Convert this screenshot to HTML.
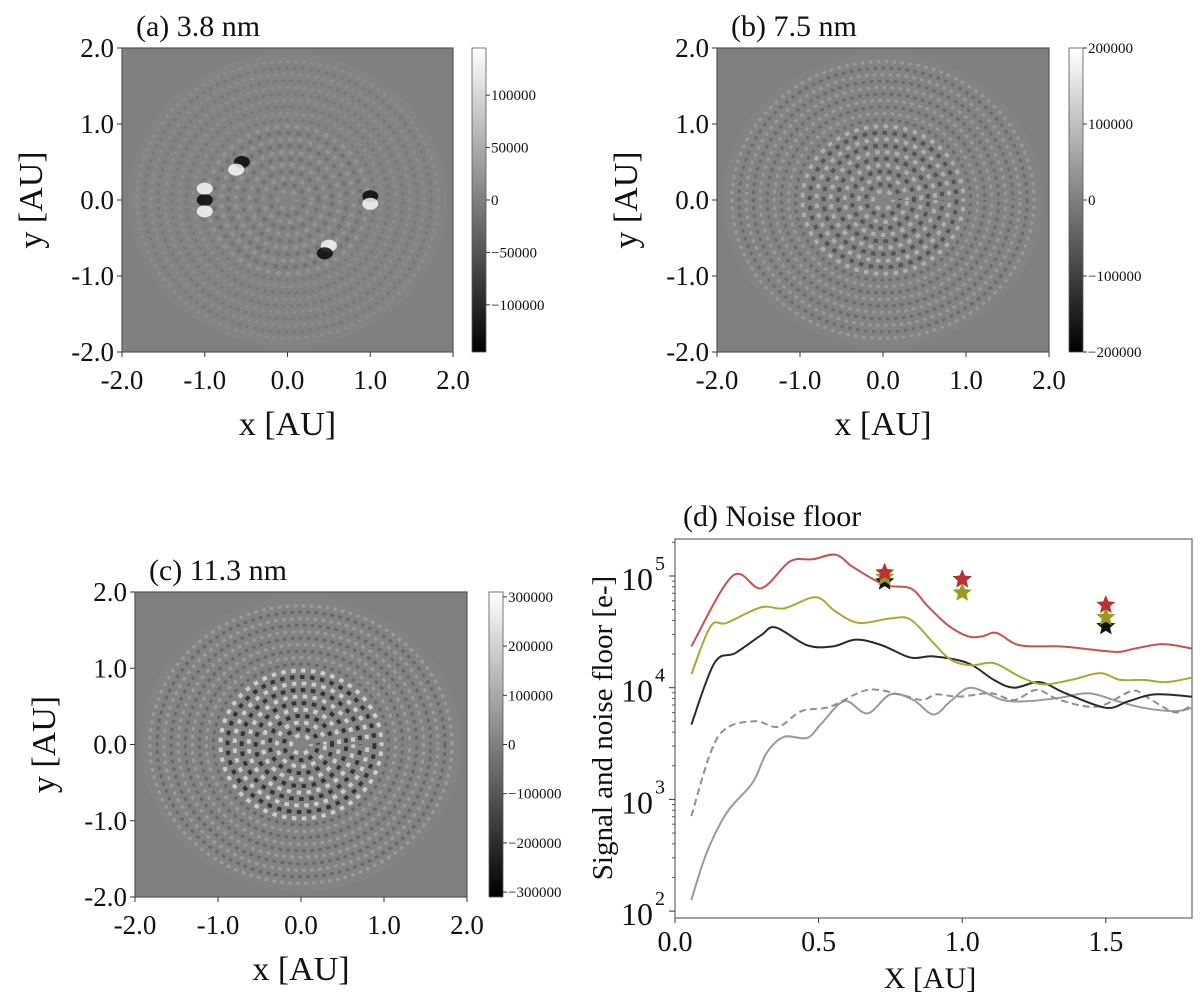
<!DOCTYPE html>
<html><head><meta charset="utf-8"><style>
body{margin:0;background:#fff}
svg{display:block;font-family:"Liberation Serif",serif}
</style></head><body>
<svg id="fig" width="1200" height="996" viewBox="0 0 1200 996" xmlns="http://www.w3.org/2000/svg">
<defs>
<linearGradient id="cbg" x1="0" y1="0" x2="0" y2="1"><stop offset="0" stop-color="#fff"/><stop offset="1" stop-color="#000"/></linearGradient>
<clipPath id="clipA"><rect x="122" y="48" width="331" height="304"/></clipPath>
<clipPath id="clipB"><rect x="717" y="48" width="332" height="304"/></clipPath>
<clipPath id="clipC"><rect x="135" y="592" width="332" height="305"/></clipPath>
<clipPath id="clipD"><rect x="675" y="539" width="517" height="379"/></clipPath>
</defs>
</svg>
<script>
// ---- panel (d) data ----
const redX=[0.057,0.2,0.30,0.40,0.48,0.56,0.62,0.73,0.82,0.88,0.95,1.02,1.07,1.12,1.20,1.34,1.42,1.54,1.60,1.70,1.80];
const redLog=[4.37,5.0,4.89,5.13,5.15,5.19,5.08,4.92,4.89,4.73,4.56,4.46,4.46,4.49,4.38,4.37,4.35,4.32,4.35,4.39,4.35];
const oliveX=[0.057,0.124,0.18,0.30,0.38,0.49,0.56,0.64,0.75,0.82,0.90,0.96,1.03,1.11,1.20,1.28,1.38,1.48,1.55,1.63,1.71,1.80];
const oliveLog=[4.12,4.55,4.58,4.72,4.71,4.81,4.68,4.58,4.62,4.61,4.40,4.25,4.20,4.22,4.10,4.03,4.07,4.13,4.07,4.07,4.05,4.09];
const blackX=[0.057,0.137,0.21,0.30,0.35,0.46,0.55,0.63,0.72,0.82,0.90,1.02,1.11,1.18,1.27,1.36,1.50,1.58,1.67,1.80];
const blackLog=[3.67,4.22,4.31,4.47,4.54,4.38,4.37,4.43,4.38,4.27,4.28,4.22,4.07,4.00,4.05,3.95,3.82,3.88,3.94,3.92];
const dashX=[0.057,0.124,0.18,0.28,0.36,0.44,0.54,0.67,0.78,0.86,0.91,0.99,1.10,1.18,1.26,1.34,1.47,1.59,1.64,1.74,1.80];
const dashLog=[2.85,3.42,3.64,3.70,3.65,3.79,3.83,3.98,3.94,3.89,3.94,3.92,3.95,3.89,3.98,3.89,3.83,3.97,3.92,3.78,3.85];
const grayX=[0.057,0.11,0.18,0.27,0.32,0.38,0.46,0.51,0.59,0.67,0.75,0.83,0.90,0.96,1.03,1.14,1.23,1.34,1.44,1.54,1.63,1.74,1.80];
const grayLog=[2.10,2.52,2.88,3.15,3.42,3.56,3.55,3.68,3.88,3.77,3.94,3.89,3.76,3.88,4.00,3.89,3.88,3.91,3.95,3.88,3.82,3.79,3.82];
const starX=[0.73,0.73,0.73,1.0,1.0,1.0,1.5,1.5,1.5];
const starLog=[4.95,4.99,5.03,4.97,4.85,4.97,4.55,4.63,4.74];
const starCol=["#111","#9a9a1a","#b83232","#111","#9a9a1a","#b83232","#111","#9a9a1a","#b83232"];
const dXTicks=[0.0,0.5,1.0,1.5];
const dYTicks=[2,3,4,5];
// ---- colorbar ticks ----
const cbA=[100000,50000,0,-50000,-100000], cbAmax=145000;
const cbB=[200000,100000,0,-100000,-200000], cbBmax=200000;
const cbC=[300000,200000,100000,0,-100000,-200000,-300000], cbCmax=310000;
const auTicks=[-2,-1,0,1,2];

const svg=document.getElementById('fig');
const NS="http://www.w3.org/2000/svg";
function el(tag,attrs,parent){const e=document.createElementNS(NS,tag);for(const k in attrs)e.setAttribute(k,attrs[k]);(parent||svg).appendChild(e);return e;}
function txt(s,x,y,size,anchor,parent,extra){const t=el('text',Object.assign({x:x,y:y,'font-size':size,'text-anchor':anchor||'start',fill:'#111'},extra||{}),parent);t.textContent=s;return t;}
function fmt(v){return v<0?'\u2212'+(-v):String(v);}

function imagePanel(id,L,T,W,H,clip,cbx,ticks,cmax,title,strength){
  const g=el('g',{});
  
  
  const sx=W/4, sy=H/4, cx=L+W/2, cy=T+H/2;
  const bg=el('rect',{x:L,y:T,width:W,height:H,fill:'#808080'},g);
  
  
  const tex=el('g',{'clip-path':'url(#'+clip+')'},g);
  el('ellipse',{cx:cx,cy:cy,rx:1.93*sx,ry:1.93*sy,fill:'#838383'},tex);
  for(let r=0.12;r<1.9;r+=0.085){
    const inner=r<1.0;
    const amp=inner?strength[0]:strength[1];
    const circ=2*Math.PI*r*sx;
    const n=Math.max(6,Math.round(circ/(inner?10:8)));
    const seg=circ/n;
    const k=Math.round(r/0.085);
    el('ellipse',{cx:cx,cy:cy,rx:r*sx,ry:r*sy,fill:'none',stroke:k%2?'#fff':'#000','stroke-opacity':amp,'stroke-width':inner?4:3,'stroke-dasharray':(seg*0.45)+' '+(seg*0.55),'stroke-dashoffset':k*seg*0.3},tex);
  }
  el('rect',{x:L,y:T,width:W,height:H,fill:'none',stroke:'#555','stroke-width':1.2},g);
  auTicks.forEach(v=>{
    const x=cx+v*sx, y=cy-v*sy;
    el('line',{x1:x,y1:T+H,x2:x,y2:T+H+5,stroke:'#333'},g);
    el('line',{x1:L,y1:y,x2:L-5,y2:y,stroke:'#333'},g);
    txt(v.toFixed(1),x,T+H+37,27,'middle',g);
    txt(v.toFixed(1),L-8,y+9,27,'end',g);
  });
  const yl=txt('y [AU]',0,0,34,'middle',g,{transform:'translate('+(L-80)+','+cy+') rotate(-90)'});
  
  
  const xl=txt('x [AU]',cx,T+H+83,34,'middle',g);
  
  
  const tt=txt(title,L+14,T-12,30,'start',g);
  
  
  const cb=el('rect',{x:cbx,y:T,width:14,height:H,fill:'url(#cbg)',stroke:'#555','stroke-width':0.8},g);
  
  
  ticks.forEach(v=>{
    const y=T+H/2-v/cmax*H/2;
    el('line',{x1:cbx+14,y1:y,x2:cbx+18,y2:y,stroke:'#333'},g);
    txt(fmt(v),cbx+19,y+5,15,'start',g);
  });
}
imagePanel('a',122,48,331,304,'clipA',472,cbA,cbAmax,'(a) 3.8 nm',[0.12,0.08]);
imagePanel('b',717,48,332,304,'clipB',1069,cbB,cbBmax,'(b) 7.5 nm',[0.35,0.18]);
imagePanel('c',135,592,332,305,'clipC',489,cbC,cbCmax,'(c) 11.3 nm',[0.6,0.2]);

[[-1.0,0.0,'#000'],[-1.0,0.15,'#fff'],[-1.0,-0.15,'#fff'],[-0.55,0.5,'#000'],[-0.62,0.4,'#fff'],[1.0,0.05,'#000'],[1.0,-0.05,'#fff'],[0.5,-0.6,'#fff'],[0.45,-0.7,'#000']].forEach(b=>{
  const c=el('ellipse',{cx:287.5+b[0]*82.75,cy:200-b[1]*76,rx:8,ry:6,fill:b[2],'fill-opacity':0.8});
  
  
});

// ---- panel d ----
const dL=675,dR=1192,dT=539,dB=918;
const xMin=0,xMax=1.8;
const yRef=5, yRefPx=576, decade=111.7;
function X(v){return dL+(v-xMin)/(xMax-xMin)*(dR-dL);}
function Y(l){return yRefPx-(l-yRef)*decade;}
const gd=el('g',{});


el('rect',{x:dL,y:dT,width:dR-dL,height:dB-dT,fill:'#fff',stroke:'#666','stroke-width':1.2},gd);
function smoothPath(xs,ls){
  const p=xs.map((x,i)=>[X(x),Y(ls[i])]);
  let d='M'+p[0][0]+','+p[0][1];
  for(let i=0;i<p.length-1;i++){
    const p0=p[Math.max(0,i-1)],p1=p[i],p2=p[i+1],p3=p[Math.min(p.length-1,i+2)];
    const c1=[p1[0]+(p2[0]-p0[0])/6,p1[1]+(p2[1]-p0[1])/6];
    const c2=[p2[0]-(p3[0]-p1[0])/6,p2[1]-(p3[1]-p1[1])/6];
    d+=' C'+c1[0]+','+c1[1]+' '+c2[0]+','+c2[1]+' '+p2[0]+','+p2[1];
  }
  return d;
}
const lines=[[grayX,grayLog,'#9a9a9a',null,'noise-solid-line'],[dashX,dashLog,'#8f8f8f','7 4','noise-dashed-line'],[blackX,blackLog,'#2a2a2a',null,'black-line'],[oliveX,oliveLog,'#a9a830',null,'olive-line'],[redX,redLog,'#c85050',null,'red-line']];
const lg=el('g',{'clip-path':'url(#clipD)'},gd);
lines.forEach(s=>{
  const a={d:smoothPath(s[0],s[1]),fill:'none',stroke:s[2],'stroke-width':2};
  if(s[3])a['stroke-dasharray']=s[3];
  const p=el('path',a,lg);
  
  
});
function starPts(cx,cy,R){let pts=[];for(let i=0;i<10;i++){const r=i%2?R*0.45:R;const a=-Math.PI/2+i*Math.PI/5;pts.push((cx+r*Math.cos(a)).toFixed(1)+','+(cy+r*Math.sin(a)).toFixed(1));}return pts.join(' ');}
starX.forEach((x,i)=>{
  const s=el('polygon',{points:starPts(X(x),Y(starLog[i]),10),fill:starCol[i]},gd);
  
  
});
dXTicks.forEach(v=>{
  el('line',{x1:X(v),y1:dB,x2:X(v),y2:dB+5,stroke:'#333'},gd);
  txt(v.toFixed(1),X(v),dB+33,28,'middle',gd);
});
dYTicks.forEach(e=>{
  el('line',{x1:dL,y1:Y(e),x2:dL-6,y2:Y(e),stroke:'#333'},gd);
  for(let m=2;m<10;m++){const l=e+Math.log10(m);if(Y(l)>dT)el('line',{x1:dL,y1:Y(l),x2:dL-3,y2:Y(l),stroke:'#555'},gd);}
  txt('10',dL-22,Y(e)+14,32,'end',gd);
  txt(String(e),dL-10,Y(e)-6,20,'end',gd);
});
const dyl=txt('Signal and noise floor [e-]',0,0,29,'middle',gd,{transform:'translate(612,728) rotate(-90)'});


const dxl=txt('X [AU]',930,988,30,'middle',gd);


const dt=txt('(d) Noise floor',683,526,30,'start',gd);


</script>
</body></html>
